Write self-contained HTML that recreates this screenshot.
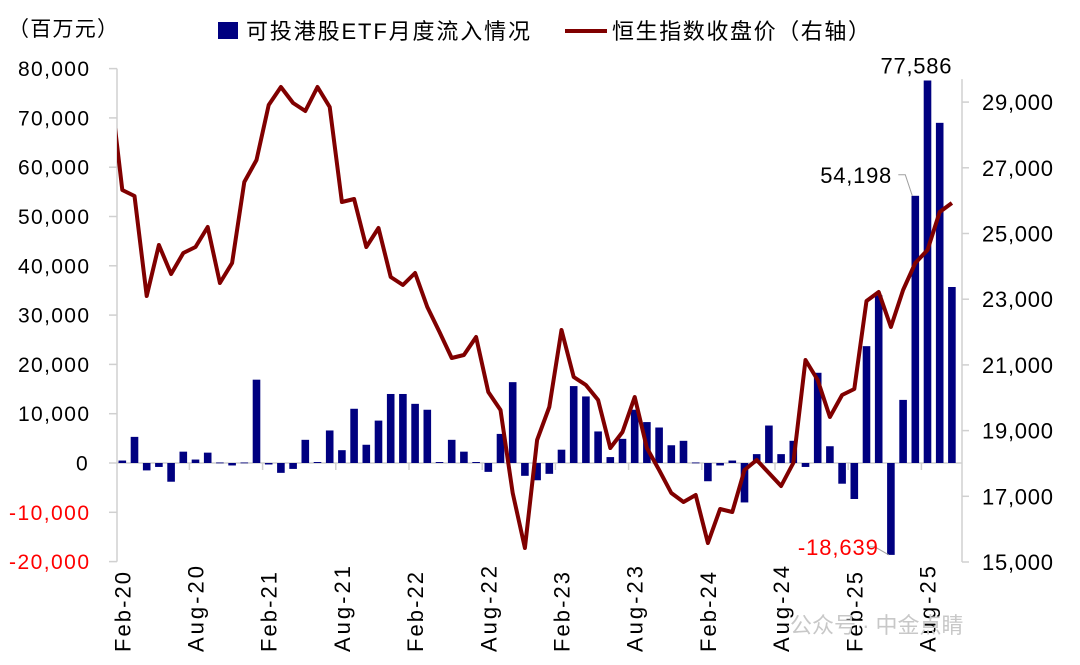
<!DOCTYPE html>
<html><head><meta charset="utf-8">
<style>
body{margin:0;background:#fff;}
svg{display:block;font-family:"Liberation Sans","Noto Sans CJK SC",sans-serif;}
</style></head>
<body>
<svg id="chart" width="1080" height="665" viewBox="0 0 1080 665" xmlns="http://www.w3.org/2000/svg">
<text x="8" y="36" font-size="21" textLength="110" lengthAdjust="spacing" fill="#000">（百万元）</text>
<g>
<rect x="218" y="22" width="20" height="17" fill="#000080"/>
<text x="246" y="39" font-size="22" textLength="284" lengthAdjust="spacing">可投港股ETF月度流入情况</text>
<line x1="565" y1="31" x2="607" y2="31" stroke="#800000" stroke-width="4"/>
<text x="612" y="39" font-size="22" textLength="258" lengthAdjust="spacing">恒生指数收盘价（右轴）</text>
</g>
<g id="axes"></g>
<g id="bars"></g>
<g id="line"></g>
<g id="labels"></g>
<text x="790" y="633" font-size="22" fill="#c8c8c8">公众号 · 中金点睛</text>
</svg>
<script>
const flows=[0.5,5.3,-1.5,-0.8,-3.8,2.3,0.7,2.1,0.1,-0.5,0.1,16.9,-0.3,-2.0,-1.2,4.7,0.2,6.6,2.6,11.0,3.7,8.6,14.0,14.0,12.0,10.8,0.2,4.7,2.3,0.2,-1.8,5.9,16.4,-2.6,-3.5,-2.2,2.7,15.6,13.5,6.4,1.2,4.9,10.8,8.3,7.2,3.6,4.5,0.1,-3.7,-0.5,0.5,-8.0,1.8,7.6,1.8,4.5,-0.8,18.3,3.4,-4.2,-7.3,23.7,34.0,-18.639,12.8,54.198,77.586,69.0,35.7];
const hsi=[29490,26324,26141,23097,24650,23767,24406,24589,25197,23493,24102,26567,27237,28911,29459,28972,28728,29459,28850,25958,26050,24589,25167,23675,23432,23797,22762,22001,21210,21301,21849,20175,19627,17100,15426,18714,19718,22062,20631,20388,19931,18470,18957,20023,18470,17800,17100,16826,17040,15578,16613,16522,17800,18105,17709,17313,18014,21149,20540,19414,20084,20266,22945,23219,22153,23280,24102,24497,25654,25928];
const leftTicks=[-20000,-10000,0,10000,20000,30000,40000,50000,60000,70000,80000];
const rightTicks=[15000,17000,19000,21000,23000,25000,27000,29000];
const xLabels=["Feb-20","Aug-20","Feb-21","Aug-21","Feb-22","Aug-22","Feb-23","Aug-23","Feb-24","Aug-24","Feb-25","Aug-25"];
const notes=[{i:65,text:"54,198",color:"#000"},{i:66,text:"77,586",color:"#000"},{i:63,text:"-18,639",color:"#ff0000"}];

const NS="http://www.w3.org/2000/svg";
const X0=122.3,DX=12.2,PL=117,PR=962;
const xs=i=>X0+DX*i;
const yL=v=>463-v*4.93/1000;
const yR=v=>562-(v-15000)/2000*65.7;
function tw(s){let w=0;for(const c of s){w+=c===','?6:(c==='-'?9:13);}return w;}
function mk(tag,attrs,parent,txt){const e=document.createElementNS(NS,tag);for(const k in attrs)e.setAttribute(k,attrs[k]);if(txt!==undefined)e.textContent=txt;parent.appendChild(e);return e;}
const axes=document.getElementById('axes');
let e;
e=mk('line',{x1:PL,y1:yL(80000),x2:PL,y2:yL(-20000),stroke:'#d0d0d0','stroke-width':1.5},axes);


e=mk('line',{x1:PR,y1:yR(29700),x2:PR,y2:yR(15000),stroke:'#d0d0d0','stroke-width':1.5},axes);


e=mk('line',{x1:PL,y1:yL(0),x2:PR,y2:yL(0),stroke:'#d0d0d0','stroke-width':1.5},axes);


leftTicks.forEach(v=>{
  const y=yL(v);
  mk('line',{x1:PL-8,y1:y,x2:PL,y2:y,stroke:'#d0d0d0','stroke-width':1.5},axes);
  const s=v.toLocaleString('en-US');
  e=mk('text',{x:89-tw(s),y:y+7.5,'font-size':21,textLength:tw(s),lengthAdjust:'spacing',fill:v<0?'#ff0000':'#000'},axes,s);
  
  
});
rightTicks.forEach(v=>{
  const y=yR(v);
  mk('line',{x1:PR,y1:y,x2:PR+7,y2:y,stroke:'#d0d0d0','stroke-width':1.5},axes);
  const s=v.toLocaleString('en-US');
  e=mk('text',{x:982,y:y+8,'font-size':22,textLength:71,lengthAdjust:'spacing',fill:'#000'},axes,s);
  
  
});
xLabels.forEach((t,k)=>{
  const i=k*6;
  const tx=xs(i)-DX/2;
  if(k>0) mk('line',{x1:tx,y1:yL(0),x2:tx,y2:yL(0)+7,stroke:'#d0d0d0','stroke-width':1.5},axes);
  const cx=xs(i)+8;
  e=mk('text',{x:cx,y:652,'font-size':22,textLength:t.startsWith('Aug')?86:80,lengthAdjust:'spacing',transform:`rotate(-90 ${cx} 652)`},axes,t);
  
  
});
const bars=document.getElementById('bars');
flows.forEach((v,i)=>{
  const y0=yL(0),y1=yL(v*1000);
  const r=mk('rect',{x:xs(i)-3.8,y:Math.min(y0,y1),width:7.6,height:Math.max(0.8,Math.abs(y1-y0)),fill:'#000080'},bars);
  
  
});
const lg=document.getElementById('line');
mk('clipPath',{id:'pc'},lg);
mk('rect',{x:PL,y:40,width:PR-PL,height:560},document.getElementById('pc'));
const pts=hsi.map((v,k)=>xs(k-1).toFixed(1)+','+yR(v).toFixed(1)).join(' ');
e=mk('polyline',{points:pts,fill:'none',stroke:'#800000','stroke-width':4,'stroke-linejoin':'round','clip-path':'url(#pc)'},lg);


const lab=document.getElementById('labels');
notes.forEach(n=>{
  const v=flows[n.i]*1000,x=xs(n.i),y=yL(v);
  const w=tw(n.text);
  let t;
  if(n.i===66){t=mk('text',{x:x-47,y:y-7,'font-size':22,textLength:w,lengthAdjust:'spacing',fill:n.color},lab,n.text);}
  else if(n.i===65){mk('polyline',{points:`${x-17},${y-21} ${x-10},${y-21} ${x-3},${y}`,fill:'none',stroke:'#a0a0a0','stroke-width':1},lab);
    t=mk('text',{x:x-95,y:y-13,'font-size':22,textLength:w,lengthAdjust:'spacing',fill:n.color},lab,n.text);}
  else {mk('polyline',{points:`${x-22},${y-8} ${x-16},${y-8} ${x-2},${y}`,fill:'none',stroke:'#a0a0a0','stroke-width':1},lab);
    t=mk('text',{x:x-93,y:y,'font-size':22,textLength:w,lengthAdjust:'spacing',fill:n.color},lab,n.text);}
  
  
});
</script>
</body></html>
